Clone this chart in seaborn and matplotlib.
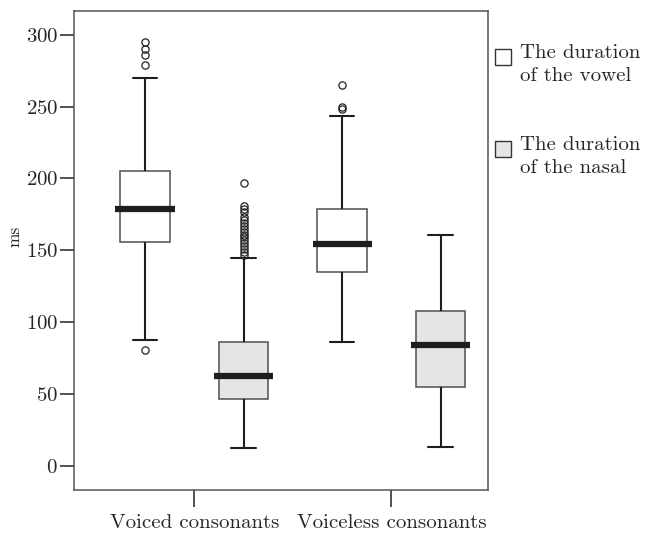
# Box plot: vowel and nasal durations for voiced vs voiceless consonants

import numpy as np
import pandas as pd
import seaborn as sns
from matplotlib import pyplot as plt
from matplotlib.patches import Patch, Rectangle
from matplotlib.legend_handler import HandlerPatch

groups = ['Voiced consonants', 'Voiceless consonants']
parts = ['The duration\nof the vowel', 'The duration\nof the nasal']
part_colors = ['white', '#e4e5e7']

# Box summaries: low whisker, Q1, median, Q3, high whisker (ms)
voiced_vowel = [88, 156, 179, 205, 270]
voiced_nasal = [13, 47, 62.5, 86.5, 145]
voiceless_vowel = [86.5, 135, 154.5, 178.5, 243.5]
voiceless_nasal = [13.5, 55, 84.5, 108, 160.5]

# Outliers (circles)
voiced_vowel_out = [81, 279, 286, 290, 295]
voiced_nasal_out = [147, 149, 151, 153, 155, 157, 159, 161, 163, 165, 167, 169,
                    171, 173, 177, 179, 181, 197]
voiceless_vowel_out = [248, 250, 265]
voiceless_nasal_out = []


# Sample whose quartiles / whiskers / fliers give exactly the summary above
def box_sample(stats, outliers):
    lo, q1, med, q3, hi = stats
    low = [v for v in outliers if v < lo]
    high = [v for v in outliers if v > hi]
    k = max(len(low), len(high)) + 1
    vals = low + [lo] * (k - len(low)) + [q1] * k + [med] * k + [q3] + [hi] * (k - len(high)) + high
    return sorted(vals)


rows = []
for g, p, stats, out in [(groups[0], parts[0], voiced_vowel, voiced_vowel_out),
                         (groups[0], parts[1], voiced_nasal, voiced_nasal_out),
                         (groups[1], parts[0], voiceless_vowel, voiceless_vowel_out),
                         (groups[1], parts[1], voiceless_nasal, voiceless_nasal_out)]:
    for v in box_sample(stats, out):
        rows.append({'consonant': g, 'part': p, 'ms': v})
df = pd.DataFrame(rows)

sns.set_style('ticks')
plt.rcParams['font.family'] = ['cmr10', 'DejaVu Serif']
plt.rcParams['axes.formatter.use_mathtext'] = True

fig, ax = plt.subplots(figsize=(6.46, 5.33), dpi=100)
fig.subplots_adjust(left=0.1146, right=0.7554, top=0.9794, bottom=0.0807)

sns.boxplot(data=df, x='consonant', y='ms', hue='part', order=groups, hue_order=parts,
            palette=part_colors, saturation=1, width=1.0, gap=0.5, dodge=True,
            linecolor='#1e1e1e', linewidth=1.5, legend=False, ax=ax,
            boxprops=dict(edgecolor='#505050', linewidth=1.1),
            medianprops=dict(color='#1e1e1e', linewidth=4.5, solid_capstyle='butt'),
            whiskerprops=dict(color='#1e1e1e', linewidth=1.5),
            capprops=dict(color='#1e1e1e', linewidth=1.5),
            flierprops=dict(marker='o', markersize=5.2, markerfacecolor='none',
                            markeredgecolor='#222222', markeredgewidth=0.9))

# median bars stick out a little past the box
for ln in ax.lines:
    if ln.get_linewidth() > 4:
        xs = np.asarray(ln.get_xdata(), dtype=float)
        ln.set_xdata([xs.min() - 0.025, xs.max() + 0.025])

ax.set_xlim(-0.61, 1.49)
ax.set_ylim(-16.5, 316.4)
ax.set_yticks(np.arange(0, 301, 50))
ax.set_xlabel('')
ax.set_ylabel('ms', fontsize=12.5)
ax.yaxis.set_label_coords(-0.125, 0.53)

ax.tick_params(axis='y', labelsize=15, length=10, width=1.2, color='#333333', pad=1.5)
ax.tick_params(axis='x', labelsize=15, length=12.5, width=1.2, color='#333333', pad=5)
for s in ax.spines.values():
    s.set_visible(True)
    s.set_color('#555555')
    s.set_linewidth(1.1)


# legend square sits next to the first line of the two-line label
class FirstLineHandler(HandlerPatch):
    def create_artists(self, legend, orig_handle, xdescent, ydescent, width, height, fontsize, trans):
        shift = 5.3
        p = Rectangle((-xdescent, -ydescent + shift), width, height,
                      facecolor=orig_handle.get_facecolor(), edgecolor='#333333',
                      linewidth=1.0, transform=trans)
        return [p]


handles = [Patch(facecolor=c, edgecolor='#333333') for c in part_colors]
leg = ax.legend(handles=handles, labels=parts, loc='upper left',
                bbox_to_anchor=(495 / 646, 1 - 44 / 533), bbox_transform=fig.transFigure,
                frameon=False, fontsize=15, borderpad=0, borderaxespad=0,
                handlelength=0.77, handleheight=0.77, handletextpad=0.45, labelspacing=2.42,
                handler_map={Patch: FirstLineHandler()})
for t in leg.get_texts():
    t.set_linespacing(1.4)

plt.savefig('out.png', dpi=100)
